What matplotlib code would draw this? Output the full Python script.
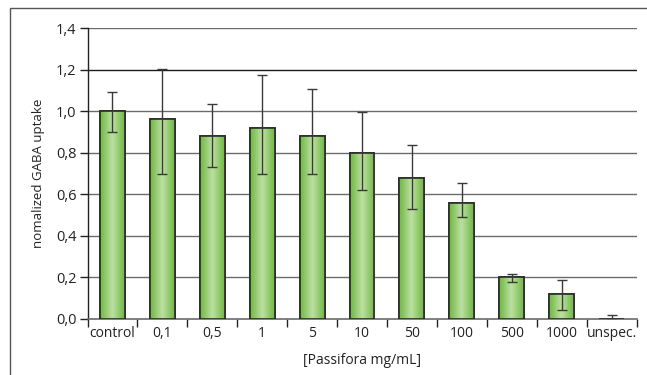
import numpy as np
from matplotlib import pyplot as plt
from matplotlib.colors import LinearSegmentedColormap
from matplotlib.patches import Rectangle

categories = ["control", "0,1", "0,5", "1", "5", "10", "50", "100", "500", "1000", "unspec."]
values = [1.00, 0.96, 0.88, 0.92, 0.88, 0.80, 0.68, 0.56, 0.20, 0.12, 0.0]
err_low = [0.90, 0.70, 0.73, 0.70, 0.70, 0.62, 0.53, 0.49, 0.18, 0.045, -0.005]
err_high = [1.09, 1.205, 1.035, 1.175, 1.105, 0.995, 0.837, 0.655, 0.216, 0.19, 0.017]
yticks = [0.0, 0.2, 0.4, 0.6, 0.8, 1.0, 1.2, 1.4]
ytick_labels = ["0,0", "0,2", "0,4", "0,6", "0,8", "1,0", "1,2", "1,4"]

plt.rcParams['font.family'] = ['Open Sans', 'DejaVu Sans']

fig = plt.figure(figsize=(6.47, 3.75), dpi=100)
ax = fig.add_axes([87.5 / 647, 1 - 319 / 375, (636.5 - 87.5) / 647, (319 - 28) / 375])

# outer frame, cut off at right and bottom like the source
fig.patches.append(Rectangle((9.5 / 647, -0.1), 1.2, 1 - 7.5 / 375 + 0.1,
                             transform=fig.transFigure, fill=False,
                             edgecolor="#555555", linewidth=1.0))

x = np.arange(len(categories))
bars = ax.bar(x, values, width=0.5, color="#8dc863", edgecolor="#2b2b2b",
              linewidth=1.2, zorder=3)

# horizontal light-in-the-middle gradient on each bar
cmap = LinearSegmentedColormap.from_list("g", ["#6fb842", "#bde0a3", "#6fb842"])
grad = np.linspace(0, 1, 64).reshape(1, -1)
for b in bars:
    if b.get_height() <= 0:
        continue
    bx, by = b.get_x(), b.get_y()
    im = ax.imshow(grad, cmap=cmap, aspect="auto", zorder=3.5,
                   extent=(bx, bx + b.get_width(), by, by + b.get_height()))
    im.set_clip_path(b)
    outline = Rectangle((bx, by), b.get_width(), b.get_height(), fill=False,
                        edgecolor="#2b2b2b", linewidth=1.2, zorder=4)
    ax.add_patch(outline)

vals = np.array(values)
yerr = np.vstack([vals - np.array(err_low), np.array(err_high) - vals])
ax.errorbar(x, vals, yerr=yerr, fmt="none", ecolor="#3a3a3a", elinewidth=1.0,
            capsize=3.5, capthick=1.0, zorder=5)

for t in yticks[1:]:
    ax.axhline(t, color="#1a1a1a" if t == 1.2 else "#6b6b6b", linewidth=1.0, zorder=1)

ax.set_xlim(-0.5, len(categories) - 0.5)
ax.set_ylim(0, 1.4)
ax.set_yticks(yticks)
ax.set_yticklabels(ytick_labels, fontsize=10.5, color="#222222")
ax.set_xticks(x)
ax.set_xticklabels(categories, fontsize=10, color="#222222")
ax.set_xticks(np.arange(len(categories) + 1) - 0.5, minor=True)
ax.tick_params(axis="x", which="major", length=0, pad=5)
ax.tick_params(axis="x", which="minor", length=6, width=1.0, color="#222222")
ax.tick_params(axis="y", length=6, width=1.0, color="#222222", pad=2)

for s in ["top", "right"]:
    ax.spines[s].set_visible(False)
ax.spines["left"].set_color("#222222")
ax.spines["bottom"].set_color("#6b6b6b")
ax.spines["left"].set_linewidth(1.0)
ax.spines["bottom"].set_linewidth(1.2)

ax.set_ylabel("nomalized GABA uptake", fontsize=9.5, color="#222222", labelpad=8)
ax.set_xlabel("[Passifora mg/mL]", fontsize=10, color="#222222", labelpad=9)

fig.savefig("out.png", dpi=100)
